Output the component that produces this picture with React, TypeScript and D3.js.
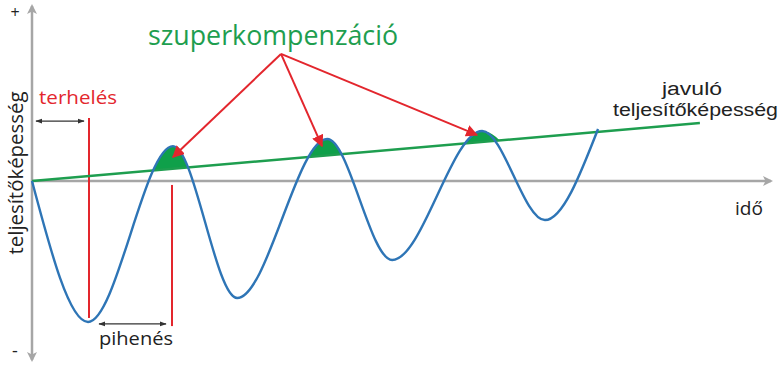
import React from "react";
import * as d3 from "d3";

// ---- data (time units 0..100, performance units -1..1) ----
const curveTime = [0, 7.59, 19.1, 27.8, 40.0, 48.8, 61.0, 69.5, 76.7];
const curvePerf = [0, -0.783, 0.194, -0.65, 0.233, -0.439, 0.278, -0.217, 0.289];
const trendTime = [0, 90.5];
const trendPerf = [0, 0.322];
const shadeUntil = 7; // index of last curve point used for the hump shading
const arrowOrigin = { t: 33.74, p: 0.706 };
const arrowTargets = [
  { t: 19.1, p: 0.133 },
  { t: 39.3, p: 0.194 },
  { t: 60.3, p: 0.256 },
];
const redLines = [
  { t: 7.72, p0: 0.35, p1: -0.761 },
  { t: 18.97, p0: -0.022, p1: -0.806 },
];
const spans = [
  { t0: 0.54, t1: 7.05, p: 0.333 },
  { t0: 9.08, t1: 18.16, p: -0.794 },
];

const W = 779;
const H = 366;
const GRAY = "#a6a6a6";
const BLUE = "#2e75b6";
const GREEN = "#1e9e4f";
const FILL = "#0fa04a";
const RED = "#e3262d";
const TEXT = "#222222";
const FONT = "'Open Sans', 'Noto Sans', sans-serif";
const TIGHT_FONT = "'Liberation Sans', Arial, sans-serif";

export default function App() {
  const x = d3.scaleLinear().domain([0, 100]).range([32, 770]);
  const y = d3.scaleLinear().domain([-1, 1]).range([361, 1]);

  const pts = curveTime.map((t, i) => [t, curvePerf[i]] as [number, number]);
  const line = d3
    .line<[number, number]>()
    .x((d) => x(d[0]))
    .y((d) => y(d[1]))
    .curve(d3.curveMonotoneX);
  const area = d3
    .area<[number, number]>()
    .x((d) => x(d[0]))
    .y0(y(-1))
    .y1((d) => y(d[1]))
    .curve(d3.curveMonotoneX);

  const trendPts = trendTime.map((t, i) => [t, trendPerf[i]] as [number, number]);
  const trendLine = d3
    .line<[number, number]>()
    .x((d) => x(d[0]))
    .y((d) => y(d[1]));

  const clipPoly = [
    [x(trendTime[0]), y(trendPerf[0])],
    [x(trendTime[1]), y(trendPerf[1])],
    [x(trendTime[1]), 0],
    [x(trendTime[0]), 0],
  ]
    .map((p) => p.join(","))
    .join(" ");

  const axX = x(0);
  const axY = y(0);

  return (
    <svg
      width={W}
      height={H}
      style={{ position: "absolute", left: 0, top: 0, background: "#fff" }}
      fontFamily={FONT}
    >
      <defs>
        <marker id="grayArrow" viewBox="0 0 10 10" refX="8" refY="5" markerWidth="4" markerHeight="4" orient="auto">
          <path d="M0,0 L10,5 L0,10 L2.5,5 Z" fill={GRAY} />
        </marker>
        <marker id="redArrow" viewBox="0 0 10 10" refX="9" refY="5" markerWidth="6" markerHeight="6" orient="auto">
          <path d="M0,0 L10,5 L0,10 Z" fill={RED} />
        </marker>
        <marker id="blackArrowEnd" viewBox="0 0 10 10" refX="9" refY="5" markerWidth="6" markerHeight="6" orient="auto">
          <path d="M0,1.5 L10,5 L0,8.5 Z" fill="#333" />
        </marker>
        <marker id="blackArrowStart" viewBox="0 0 10 10" refX="1" refY="5" markerWidth="6" markerHeight="6" orient="auto">
          <path d="M10,1.5 L0,5 L10,8.5 Z" fill="#333" />
        </marker>
        <clipPath id="aboveTrend">
          <polygon points={clipPoly} />
        </clipPath>
      </defs>

      {/* axes */}
      <line x1={axX} y1={axY} x2={axX} y2={6} stroke={GRAY} strokeWidth={2.5} markerEnd="url(#grayArrow)" />
      <line x1={axX} y1={axY} x2={axX} y2={360} stroke={GRAY} strokeWidth={2.5} markerEnd="url(#grayArrow)" />
      <line x1={axX} y1={axY} x2={771} y2={axY} stroke={GRAY} strokeWidth={2.5} markerEnd="url(#grayArrow)" />

      {/* shaded humps */}
      <path d={area(pts.slice(0, shadeUntil + 1)) || ""} fill={FILL} clipPath="url(#aboveTrend)" />

      {/* red vertical markers */}
      {redLines.map((r, i) => (
        <line key={i} x1={x(r.t)} x2={x(r.t)} y1={y(r.p0)} y2={y(r.p1)} stroke={RED} strokeWidth={2} />
      ))}

      {/* trend line */}
      <path d={trendLine(trendPts) || ""} fill="none" stroke={GREEN} strokeWidth={2.5} />

      {/* performance curve */}
      <path d={line(pts) || ""} fill="none" stroke={BLUE} strokeWidth={2.4} />

      {/* black double arrows */}
      {spans.map((s, i) => (
        <line
          key={i}
          x1={x(s.t0)}
          x2={x(s.t1)}
          y1={y(s.p)}
          y2={y(s.p)}
          stroke="#333"
          strokeWidth={1.2}
          markerStart="url(#blackArrowStart)"
          markerEnd="url(#blackArrowEnd)"
        />
      ))}

      {/* red arrows */}
      {arrowTargets.map((a, i) => (
        <line
          key={i}
          x1={x(arrowOrigin.t)}
          y1={y(arrowOrigin.p)}
          x2={x(a.t)}
          y2={y(a.p)}
          stroke={RED}
          strokeWidth={2}
          markerEnd="url(#redArrow)"
        />
      ))}

      {/* texts */}
      <text x={15} y={18} fontSize={16} textAnchor="middle" fill={TEXT}>+</text>
      <text x={15} y={357} fontSize={18} textAnchor="middle" fill={TEXT}>-</text>
      <text
        transform="translate(23,173) rotate(-90)"
        fontSize={20}
        textAnchor="middle"
        fill={TEXT}
        textLength={163}
        lengthAdjust="spacingAndGlyphs"
      >
        teljesítőképesség
      </text>
      <text x={148} y={45} fontSize={28} fill={GREEN} textLength={250} lengthAdjust="spacingAndGlyphs">
        szuperkompenzáció
      </text>
      <text x={39} y={104} fontSize={19} fill={RED} textLength={78} lengthAdjust="spacingAndGlyphs">
        terhelés
      </text>
      <text x={99} y={345} fontSize={19} fill={TEXT} textLength={74} lengthAdjust="spacingAndGlyphs">
        pihenés
      </text>
      <text x={662} y={95} fontSize={18} fontFamily={TIGHT_FONT} fill={TEXT} textLength={60} lengthAdjust="spacingAndGlyphs">
        javuló
      </text>
      <text x={613} y={116} fontSize={18} fontFamily={TIGHT_FONT} fill={TEXT} textLength={165} lengthAdjust="spacingAndGlyphs">
        teljesítőképesség
      </text>
      <text x={735} y={215} fontSize={19} fill={TEXT} textLength={28} lengthAdjust="spacingAndGlyphs">
        idő
      </text>
    </svg>
  );
}
